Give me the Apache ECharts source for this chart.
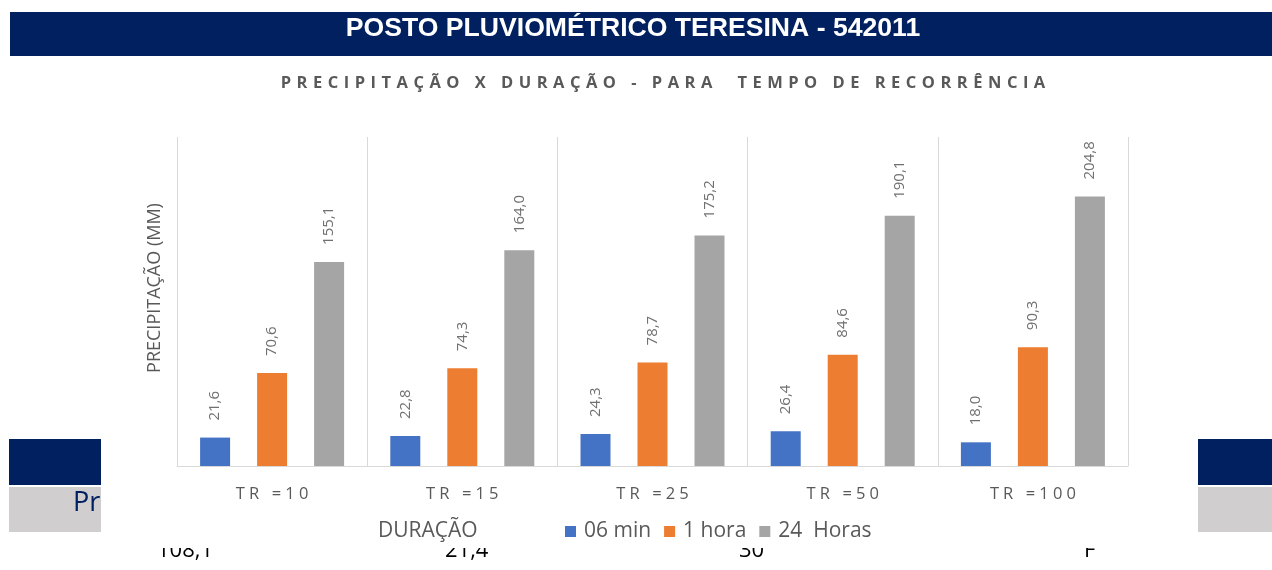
<!DOCTYPE html>
<html>
<head>
<meta charset="utf-8">
<title>Posto Pluviométrico Teresina - 542011</title>
<script src="https://cdn.jsdelivr.net/npm/echarts@6/dist/echarts.min.js"></script>
<style>
  html, body { margin: 0; padding: 0; background: #ffffff; }
  #chart { width: 1272px; height: 570px; }
</style>
</head>
<body>
<div id="chart"></div>
<script>
// Return periods (categories) and precipitation (mm) per rainfall duration
const categories = ['TR =10', 'TR =15', 'TR =25', 'TR =50', 'TR =100'];
const seriesNames = ['06 min', '1 hora', '24  Horas'];
const min06 = [21.6, 22.8, 24.3, 26.4, 18.0];
const hora1 = [70.6, 74.3, 78.7, 84.6, 90.3];
const horas24 = [155.1, 164.0, 175.2, 190.1, 204.8];

// Texts of the page layout around the chart
const headerTitle = 'POSTO PLUVIOMÉTRICO TERESINA - 542011';
const chartTitle = 'PRECIPITAÇÃO X DURAÇÃO - PARA  TEMPO DE RECORRÊNCIA';
const yAxisTitle = 'PRECIPITAÇÃO (MM)';
const xAxisTitle = 'DURAÇÃO';
const tableHeader = 'Precipitação';
const tableRow = ['108,1', '21,4', '30', 'F'];

const NAVY = '#002060';
const TABLE_GREY = '#D0CECE';
const TEXT_GREY = '#595959';
const FONT = '"Open Sans", "Noto Sans", sans-serif';

// Spread letters apart with a small Unicode space (canvas text has no letter-spacing)
const spaced = (s, sep) => Array.from(s).join(sep);
const fmt = v => Number(v).toFixed(1).replace('.', ',');

const chart = echarts.init(document.getElementById('chart'), null, { renderer: 'canvas' });

function barSeries(name, data, color) {
  return {
    name: name,
    type: 'bar',
    data: data,
    barWidth: 30,
    barGap: '90%',
    z: 6,
    itemStyle: { color: color },
    label: {
      show: true,
      position: 'top',
      distance: 17,
      rotate: 90,
      align: 'left',
      verticalAlign: 'middle',
      color: '#707070',
      fontSize: 15,
      fontFamily: FONT,
      formatter: p => fmt(p.value)
    }
  };
}

const option = {
  backgroundColor: '#ffffff',
  animation: false,
  grid: { left: 177, right: 144, top: 137, bottom: 104 },
  xAxis: {
    type: 'category',
    data: categories,
    z: 5,
    axisLine: { show: true, lineStyle: { color: '#d9d9d9', width: 1 } },
    axisTick: { show: false },
    splitLine: { show: true, lineStyle: { color: '#d9d9d9', width: 1 } },
    axisLabel: {
      color: TEXT_GREY,
      fontSize: 16.5,
      fontFamily: FONT,
      margin: 20,
      formatter: v => spaced(v, '\u2005')
    }
  },
  yAxis: {
    type: 'value',
    min: 0,
    max: 250,
    show: false,
    z: 5,
    splitLine: { show: false }
  },
  legend: {
    data: seriesNames,
    left: 565,
    top: 521,
    padding: 0,
    z: 6,
    icon: 'rect',
    itemWidth: 11,
    itemHeight: 11,
    itemGap: 13,
    textStyle: { color: TEXT_GREY, fontSize: 21, fontFamily: FONT, padding: [0, 0, 0, 3] }
  },
  series: [
    barSeries(seriesNames[0], min06, '#4472C4'),
    barSeries(seriesNames[1], hora1, '#ED7D31'),
    barSeries(seriesNames[2], horas24, '#A5A5A5')
  ],
  graphic: {
    elements: [
      // page header band
      { type: 'rect', z: 0, shape: { x: 10, y: 12, width: 1262, height: 44 }, style: { fill: NAVY } },
      { type: 'text', z: 0, x: 633, y: 29,
        style: { text: headerTitle, fill: '#ffffff', font: 'bold 26.6px "Liberation Sans", Arial, sans-serif',
                 align: 'center', verticalAlign: 'middle', textAlign: 'center', textVerticalAlign: 'middle' } },
      // table beneath the chart
      { type: 'rect', z: 0, shape: { x: 9, y: 439, width: 1263, height: 46 }, style: { fill: NAVY } },
      { type: 'rect', z: 0, shape: { x: 9, y: 487, width: 1263, height: 45 }, style: { fill: TABLE_GREY } },
      { type: 'text', z: 0, x: 73, y: 503,
        style: { text: tableHeader, fill: NAVY, font: '27px ' + FONT,
                 align: 'left', verticalAlign: 'middle', textAlign: 'left', textVerticalAlign: 'middle' } },
      { type: 'text', z: 0, x: 157, y: 551,
        style: { text: tableRow[0], fill: '#000000', font: '22px ' + FONT,
                 align: 'left', verticalAlign: 'middle', textAlign: 'left', textVerticalAlign: 'middle' } },
      { type: 'text', z: 0, x: 445, y: 551,
        style: { text: tableRow[1], fill: '#000000', font: '22px ' + FONT,
                 align: 'left', verticalAlign: 'middle', textAlign: 'left', textVerticalAlign: 'middle' } },
      { type: 'text', z: 0, x: 739, y: 551,
        style: { text: tableRow[2], fill: '#000000', font: '22px ' + FONT,
                 align: 'left', verticalAlign: 'middle', textAlign: 'left', textVerticalAlign: 'middle' } },
      { type: 'text', z: 0, x: 1084, y: 551,
        style: { text: tableRow[3], fill: '#000000', font: '22px ' + FONT,
                 align: 'left', verticalAlign: 'middle', textAlign: 'left', textVerticalAlign: 'middle' } },
      // chart card laid over the table
      { type: 'rect', z: 1, shape: { x: 101, y: 60, width: 1097, height: 488 }, style: { fill: '#ffffff' } },
      { type: 'text', z: 7, x: 663, y: 83,
        style: { text: spaced(chartTitle, '\u2004'), fill: TEXT_GREY, font: 'bold 16.5px ' + FONT,
                 align: 'center', verticalAlign: 'middle', textAlign: 'center', textVerticalAlign: 'middle' } },
      { type: 'text', z: 7, x: 155, y: 288, rotation: Math.PI / 2,
        style: { text: yAxisTitle, fill: TEXT_GREY, font: '18px ' + FONT,
                 align: 'center', verticalAlign: 'middle', textAlign: 'center', textVerticalAlign: 'middle' } },
      { type: 'text', z: 7, x: 378, y: 531,
        style: { text: xAxisTitle, fill: TEXT_GREY, font: '21px ' + FONT,
                 align: 'left', verticalAlign: 'middle', textAlign: 'left', textVerticalAlign: 'middle' } }
    ]
  }
};

chart.setOption(option);
</script>
</body>
</html>
